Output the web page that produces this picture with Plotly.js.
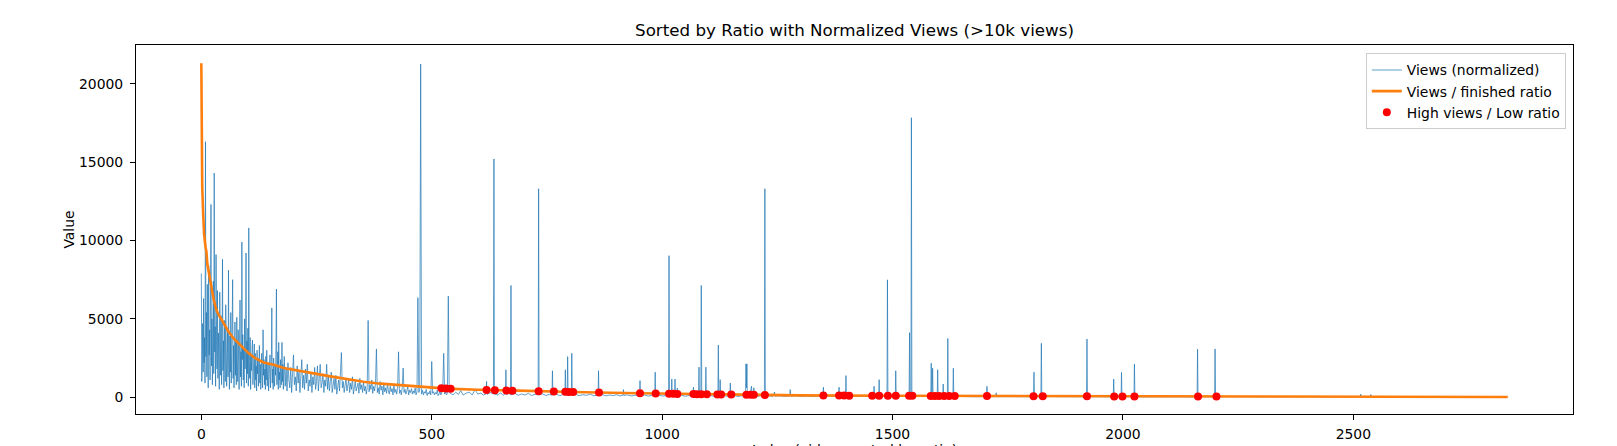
<!DOCTYPE html>
<html>
<head>
<meta charset="utf-8">
<script src="https://cdn.plot.ly/plotly-3.0.1.min.js"></script>
<style>
html, body { margin: 0; padding: 0; overflow: hidden; background: #fff; }
#frame { width: 1617px; height: 446px; overflow: hidden; position: relative; }
#chart { width: 1617px; height: 470px; }
</style>
</head>
<body>
<div id="frame"><div id="chart"></div></div>
<script>
// views (normalized), first part: one value per index starting at 0
const headStart = 0, headStep = 1;
const headViews = [
    7900, 1000, 2400, 4700, 1600, 6300, 2200, 3800, 900, 16300,
    2600, 5400, 1300, 7200, 3100, 600, 8400, 2700, 4300, 1100,
    6100, 12300, 2000, 5000, 800, 3900, 7400, 1500, 14300, 2900,
    4500, 700, 9100, 3300, 1800, 6800, 1200, 4100, 2500, 500,
    6700, 3000, 1400, 5200, 800, 2700, 8800, 1700, 3600, 600,
    4900, 2300, 1000, 5900, 3400, 700, 2600, 4400, 1300, 8100,
    2100, 500, 3900, 1600, 5400, 900, 2800, 4600, 7500, 1200,
    3300, 600, 2500, 4800, 1400, 3700, 800, 5100, 2200, 1000,
    4300, 1900, 500, 3500, 6200, 1300, 2900, 700, 9900, 2400,
    4000, 1100, 3200, 600, 5000, 1800, 2700, 9200, 900, 3600,
    1500, 4400, 700, 10800, 2300, 1200, 3800, 500, 2600, 1700,
    3100, 3650, 800, 2200, 1400, 3400, 600, 2800, 1100, 2000,
    400, 3000, 1500, 2500, 700, 1900, 3300, 900, 2100, 500,
    1700, 2800, 1200, 600, 4300, 1400, 2400, 800, 1800, 500,
    2600, 1100, 3000, 700, 1600, 2200, 400, 1900, 1300, 2700,
    600, 1500, 2300, 5700, 900, 1800, 500, 2500, 1200, 700,
    2000, 1400, 3200, 6900, 800, 1700, 2900, 500, 3500, 1100,
    1600, 600, 2400, 1300, 800, 3500, 1000, 2100, 500, 1500
];

// views (normalized), second part: every other index from 180
const midStart = 180, midStep = 2;
const midViews = [
    2600, 700, 1800, 400, 2200, 1100, 600, 1900, 300, 1500,
    2700, 800, 1300, 400, 2000, 900, 1600, 300, 1200, 2400,
    600, 1400, 500, 1800, 900, 2100, 400, 1100, 700, 1600,
    300, 1300, 800, 1900, 500, 1000, 2000, 400, 1200, 2100,
    600, 900, 1500, 300, 1100, 700, 2100, 500, 1300, 400,
    1000, 1600, 300, 800, 1200, 500, 1400, 200, 900, 1100,
    400, 1300, 2850, 600, 1000, 300, 800, 1200, 400, 700,
    1100, 300, 900, 500, 1300, 200, 700, 1000, 400, 600,
    900, 250, 1200, 500, 800, 300, 1000, 400, 700, 200,
    600, 4900, 350, 800, 500, 1100, 250, 700, 400, 900,
    3080, 300, 600, 200, 1000, 450, 700, 150, 800, 350,
    600, 250, 900, 400, 200, 700, 350, 550, 150, 800,
    300, 500, 200, 650, 2900, 250, 450, 150, 600, 1860,
    300, 500, 200, 400, 700, 150, 450, 300, 550, 200,
    400, 250, 600, 150, 350, 6350, 300, 500, 21250, 200,
    450, 150, 350, 250, 500, 100, 300, 200, 400, 150,
    2280, 250, 350, 150, 300, 200, 450, 100, 250, 350,
    150, 300, 550, 2800, 200, 350, 150, 250, 6450, 300
];

// views (normalized), tail: [index, value]
const tailViews = [
    [540, 250], [546, 150], [552, 320], [558, 180], [563, 420], [568, 140], [575, 260], [581, 330],
    [588, 150], [594, 480], [600, 200], [607, 270], [612, 130], [618, 220], [619, 1010], [620, 180],
    [627, 300], [634, 200], [635, 15200], [636, 200], [643, 150], [650, 280], [655, 120], [660, 240],
    [661, 1750], [662, 160], [667, 230], [671, 190], [672, 7130], [673, 150], [680, 260], [688, 120],
    [695, 210], [702, 140], [710, 250], [717, 110], [724, 190], [731, 160], [732, 13300], [733, 140],
    [740, 220], [748, 110], [755, 180], [761, 130], [762, 1690], [763, 150], [770, 200], [778, 100],
    [785, 170], [789, 140], [790, 1750], [791, 160], [794, 120], [795, 2590], [796, 150], [800, 180],
    [803, 130], [804, 2800], [805, 140], [812, 190], [820, 100], [828, 160], [836, 120], [844, 200],
    [852, 90], [861, 150], [862, 1690], [863, 130], [870, 170], [878, 90], [886, 140], [894, 110],
    [902, 160], [909, 80], [915, 130], [916, 490], [917, 120], [925, 150], [933, 80], [941, 130],
    [951, 100], [952, 1060], [953, 110], [962, 140], [970, 70], [978, 120], [984, 100], [985, 1600],
    [986, 110], [994, 130], [1002, 70], [1009, 120], [1014, 90], [1015, 9030], [1016, 110], [1020, 90],
    [1021, 1160], [1022, 100], [1027, 80], [1028, 1160], [1029, 110], [1032, 90], [1033, 590], [1034, 100],
    [1042, 120], [1050, 60], [1058, 110], [1067, 80], [1068, 640], [1069, 90], [1075, 120], [1079, 70],
    [1080, 1920], [1081, 100], [1084, 80], [1085, 7130], [1086, 110], [1090, 70], [1094, 90], [1095, 1920],
    [1096, 80], [1104, 110], [1112, 60], [1121, 90], [1122, 3330], [1123, 80], [1125, 100], [1126, 1120],
    [1127, 80], [1135, 110], [1142, 60], [1147, 90], [1148, 900], [1149, 80], [1157, 100], [1165, 50],
    [1173, 90], [1181, 70], [1182, 2130], [1183, 600], [1184, 2130], [1185, 90], [1190, 60], [1194, 700],
    [1195, 80], [1198, 70], [1199, 600], [1200, 90], [1208, 60], [1215, 100], [1222, 70], [1223, 13300],
    [1224, 80], [1232, 90], [1240, 50], [1244, 330], [1245, 70], [1255, 90], [1266, 50], [1277, 80],
    [1278, 490], [1279, 60], [1290, 90], [1302, 50], [1314, 80], [1326, 40], [1338, 70], [1349, 50],
    [1350, 640], [1351, 60], [1362, 80], [1373, 40], [1383, 60], [1384, 640], [1385, 50], [1392, 70],
    [1398, 50], [1399, 1380], [1400, 60], [1412, 70], [1424, 40], [1436, 60], [1448, 40], [1459, 60],
    [1460, 700], [1461, 50], [1466, 60], [1470, 40], [1471, 1120], [1472, 60], [1480, 50], [1488, 60],
    [1489, 7490], [1490, 50], [1498, 60], [1506, 40], [1507, 1690], [1508, 60], [1518, 50], [1528, 40],
    [1536, 60], [1537, 4120], [1538, 50], [1540, 60], [1541, 17830], [1542, 50], [1552, 60], [1563, 40],
    [1574, 50], [1583, 40], [1584, 2170], [1585, 60], [1586, 50], [1587, 1850], [1588, 40], [1594, 60],
    [1597, 50], [1598, 1750], [1599, 50], [1605, 40], [1609, 60], [1610, 840], [1611, 50], [1616, 40],
    [1619, 60], [1620, 3750], [1621, 50], [1626, 40], [1631, 50], [1632, 1850], [1633, 40], [1645, 50],
    [1658, 30], [1671, 50], [1684, 30], [1695, 40], [1704, 30], [1705, 700], [1706, 40], [1715, 30],
    [1724, 40], [1725, 280], [1726, 30], [1740, 40], [1755, 30], [1770, 40], [1785, 30], [1798, 40],
    [1806, 30], [1807, 1600], [1808, 40], [1815, 30], [1822, 40], [1823, 3440], [1824, 30], [1838, 40],
    [1852, 30], [1866, 40], [1880, 20], [1894, 40], [1908, 30], [1921, 40], [1922, 3710], [1923, 30],
    [1936, 40], [1950, 20], [1964, 30], [1979, 20], [1980, 1160], [1981, 30], [1990, 20], [1996, 30],
    [1997, 1580], [1998, 20], [2010, 30], [2024, 20], [2025, 2110], [2026, 30], [2042, 20], [2060, 30],
    [2078, 20], [2096, 30], [2114, 20], [2132, 30], [2148, 20], [2161, 30], [2162, 3060], [2163, 20],
    [2177, 30], [2190, 20], [2199, 30], [2200, 3080], [2201, 20], [2220, 30], [2245, 20], [2270, 30],
    [2295, 20], [2320, 30], [2345, 20], [2370, 30], [2395, 20], [2420, 30], [2445, 20], [2470, 30],
    [2495, 20], [2515, 30], [2516, 200], [2517, 30], [2530, 20], [2537, 30], [2538, 180], [2539, 20],
    [2560, 30], [2585, 20], [2610, 30], [2640, 20], [2670, 30], [2700, 20], [2730, 30], [2760, 20],
    [2790, 30], [2815, 20], [2835, 10]
];

// views / finished ratio
const ratioIdx = [0, 1, 2, 4, 6, 9, 11, 13, 17, 22, 27, 33, 38, 45, 52, 59, 70, 81, 92, 103,
    117, 135, 157, 179, 208, 244, 280, 316, 352, 389, 425, 461, 497, 533, 600, 700, 830, 950,
    1081, 1200, 1300, 1500, 1700, 2000, 2300, 2600, 2835];
const ratioVals = [21300, 15700, 13400, 11700, 10400, 9600, 9300, 8500, 7900, 6900, 6200, 5550,
    5230, 4900, 4500, 4180, 3750, 3400, 3120, 2800, 2490, 2215, 2070, 1860, 1690, 1520, 1330, 1160,
    990, 865, 780, 700, 633, 550, 480, 400, 320, 250, 190, 150, 120, 95, 75, 50, 35, 20, 10];

// high views / low ratio
const dotIdx = [521, 531, 541, 619, 637, 662, 675, 732, 765, 790, 798, 807, 863, 952, 986, 1015,
    1024, 1033, 1068, 1076, 1085, 1097, 1120, 1128, 1150, 1183, 1192, 1199, 1223, 1350, 1384, 1395,
    1406, 1456, 1471, 1490, 1507, 1536, 1543, 1583, 1592, 1601, 1612, 1623, 1635, 1705, 1806, 1826,
    1922, 1981, 1999, 2025, 2163, 2203];
const dotVals = [570, 555, 545, 465, 450, 430, 420, 380, 360, 345, 340, 335, 300, 250, 235, 220,
    215, 210, 200, 195, 192, 188, 178, 175, 168, 157, 154, 152, 145, 110, 105, 103,
    101, 98, 97, 95, 93, 91, 90, 86, 85, 84, 83, 82, 81, 74, 66, 64,
    56, 51, 50, 48, 42, 40];

const viewX = [], viewY = [];
headViews.forEach((v, i) => { viewX.push(headStart + i * headStep); viewY.push(v); });
midViews.forEach((v, i) => { viewX.push(midStart + i * midStep); viewY.push(v); });
tailViews.forEach(p => { viewX.push(p[0]); viewY.push(p[1]); });

const font = 'DejaVu Sans, sans-serif';

let traces = [
    {
        x: viewX, y: viewY, type: 'scatter', mode: 'lines',
        name: 'Views (normalized)',
        line: {color: '#1f77b4', width: 0.7}
    },
    {
        x: ratioIdx, y: ratioVals, type: 'scatter', mode: 'lines',
        name: 'Views / finished ratio',
        line: {color: '#ff7f0e', width: 2.6}
    },
    {
        x: dotIdx, y: dotVals, type: 'scatter', mode: 'markers',
        name: 'High views / Low ratio',
        marker: {color: 'red', size: 8}
    }
];

let axisStyle = {
    showline: true, mirror: true, linecolor: '#000', linewidth: 1,
    ticks: 'outside', ticklen: 5, tickwidth: 1, tickcolor: '#000',
    showgrid: false, zeroline: false,
    tickfont: {family: font, size: 13.9, color: '#000'}
};

// the figure is taller than the window; the bottom (x label) is cut off like the original
let layout = {
    width: 1617, height: 470,
    margin: {l: 136, r: 44, t: 45, b: 56},
    paper_bgcolor: '#fff', plot_bgcolor: '#fff',
    font: {family: font, color: '#000'},
    title: {
        text: 'Sorted by Ratio with Normalized Views (>10k views)',
        font: {family: font, size: 16.7, color: '#000'},
        x: 0.5, xref: 'paper', xanchor: 'center',
        y: 1, yref: 'paper', yanchor: 'bottom', pad: {b: 9}
    },
    xaxis: Object.assign({}, axisStyle, {
        range: [-141.75, 2976.75], tick0: 0, dtick: 500, tickformat: 'd',
        ticklabelstandoff: 2,
        title: {text: 'Index (videos sorted by ratio)', standoff: 0, font: {family: font, size: 13.9, color: '#000'}}
    }),
    yaxis: Object.assign({}, axisStyle, {
        range: [-1070, 22470], tick0: 0, dtick: 5000, tickformat: 'd',
        ticklabelstandoff: 4,
        title: {text: 'Value', standoff: 1, font: {family: font, size: 13.9, color: '#000'}}
    }),
    showlegend: true,
    legend: {
        x: 0.995, xanchor: 'right', y: 0.977, yanchor: 'top',
        bgcolor: 'rgba(255,255,255,0.8)', bordercolor: '#cccccc', borderwidth: 1,
        font: {family: font, size: 13.9, color: '#000'}
    }
};

Plotly.newPlot('chart', traces, layout, {staticPlot: true, displayModeBar: false});
</script>
</body>
</html>
